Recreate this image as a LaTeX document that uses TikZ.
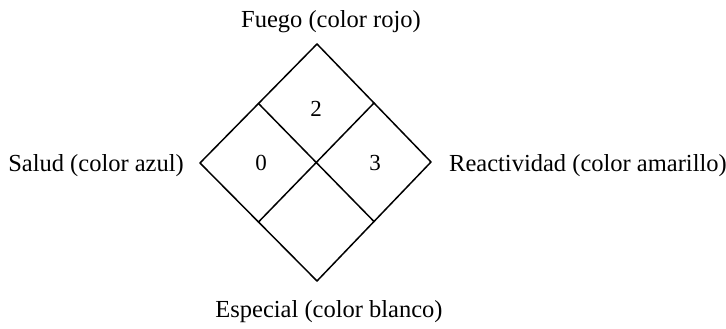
\documentclass[tikz,border=0pt]{standalone}
\usepackage{fontspec}
\setmainfont{Liberation Serif}
\usepackage{tikz}
\usetikzlibrary{calc}

\begin{document}
\begin{tikzpicture}[x=1pt,y=-1pt,line join=round,line cap=round,
  rombo/.style={line width=1.5pt},
  etiqueta/.style={font=\fontsize{24.5}{27}\selectfont,inner sep=0pt},
  cifra/.style={font=\fontsize{23}{25}\selectfont,inner sep=0pt}]
\useasboundingbox (0,0) rectangle (726,329);
% vertices of the diamond
\coordinate (arriba) at (317,44);
\coordinate (izq) at (200,163);
\coordinate (der) at (431,162);
\coordinate (abajo) at (317,281);
\draw[rombo] (arriba) -- (der) -- (abajo) -- (izq) -- cycle;
\draw[rombo] ($(arriba)!0.5!(izq)$) coordinate (mi) -- ($(abajo)!0.5!(der)$) coordinate (md);
\draw[rombo] ($(arriba)!0.5!(der)$) coordinate (ms) -- ($(abajo)!0.5!(izq)$) coordinate (mb);
% values
\node[cifra] (fuego) at (316,109) {2};
\node[cifra] (salud) at (261,163) {0};
\node[cifra] (react) at (375,163) {3};
% labels
\node[etiqueta] (tfuego) at (331,22) {Fuego (color rojo)};
\node[etiqueta,anchor=east] (tsalud) at (184,166) {Salud (color azul)};
\node[etiqueta,anchor=west] (treact) at (449,166) {Reactividad (color amarillo)};
\node[etiqueta] (tesp) at (329,312) {Especial (color blanco)};
\end{tikzpicture}
\end{document}
